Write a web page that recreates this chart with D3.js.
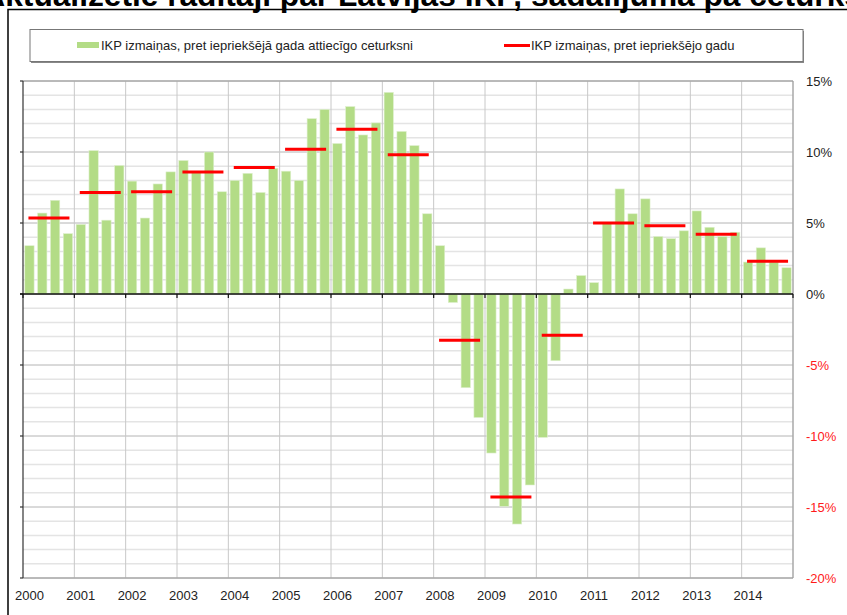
<!DOCTYPE html>
<html lang="lv">
<head>
    <meta charset="UTF-8">
    <title>IKP izmaiņas</title>
    <style>
        body{margin:0;background:#fff;}
        svg{display:block;font-family:Arial,"Liberation Sans",sans-serif;}
    </style>
    <script src="https://cdn.jsdelivr.net/npm/d3@7/dist/d3.min.js"></script>
</head>
<body>
<svg width="847" height="615"></svg>
<script>
    // gadi un ceturkšņu dati (%)
    var years = [2000,2001,2002,2003,2004,2005,2006,2007,2008,2009,2010,2011,2012,2013,2014];
    var quarterly = [
        3.4, 5.7, 6.6, 4.25,
        4.9, 10.1, 5.2, 9.05,
        7.95, 5.35, 7.75, 8.6,
        9.4, 8.6, 10.0, 7.2,
        8.0, 8.5, 7.15, 8.85,
        8.65, 8.0, 12.35, 13.0,
        10.6, 13.2, 11.2, 12.05,
        14.2, 11.45, 10.45, 5.65,
        3.4, -0.6, -6.6, -8.7,
        -11.2, -14.95, -16.2, -13.45,
        -10.1, -4.7, 0.35, 1.3,
        0.8, 4.95, 7.4, 5.65,
        6.7, 4.05, 3.9, 4.45,
        5.85, 4.7, 4.05, 4.35,
        2.25, 3.25, 2.25, 1.85
    ];
    var annual = [5.35, 7.15, 7.2, 8.6, 8.9, 10.2, 11.6, 9.8, -3.25, -14.3, -2.9, 5.0, 4.8, 4.2, 2.3];
    var yTicks = [15, 10, 5, 0, -5, -10, -15, -20];
    var legendLabels = ["IKP izmaiņas, pret iepriekšējā gada attiecīgo ceturksni", "IKP izmaiņas, pret iepriekšējo gadu"];
    var titleText = "Aktualizētie rādītāji par Latvijas IKP, sadalījumā pa ceturkšņiem";

    var quarters = [];
    years.forEach(function(yr){ ["Q1","Q2","Q3","Q4"].forEach(function(q){ quarters.push(yr+" "+q); }); });

    var svg = d3.select("svg");
    var plotL = 23, plotR = 793, plotT = 81, plotB = 578;

    var x = d3.scaleBand().domain(quarters).range([plotL, plotR]).paddingInner(0.275).paddingOuter(0.14);
    var xYear = d3.scaleLinear().domain([2000, 2015]).range([plotL, plotR]);
    var y = d3.scaleLinear().domain([-20, 15]).range([plotB, plotT]);

    svg.append("rect").attr("width",847).attr("height",615).attr("fill","#fff");

    // virsraksts (nogriezts augšā)
    function measure(str, size){
        var t = svg.append("text").attr("font-size",size).attr("font-weight","bold").text(str);
        var w = t.node().getComputedTextLength();
        t.remove();
        return w;
    }
    var titleSize = 27 * 415 / measure("par Latvijas IKP, sadalījumā ", 27);
    var pre = measure("Aktualizētie rādītāji ", titleSize);
    svg.append("text")
        .attr("x", 271 - pre)
        .attr("y", 6)
        .attr("font-size", titleSize)
        .attr("font-weight", "bold")
        .attr("fill", "#000")
        .text(titleText);

    // ārējais rāmis
    svg.append("rect").attr("x",8).attr("y",9.5).attr("width",860).attr("height",640)
        .attr("fill","none").attr("stroke","#000").attr("stroke-width",1.5);

    // leģenda
    svg.append("rect").attr("x",31).attr("y",31).attr("width",773).attr("height",32)
        .attr("fill","#888");
    svg.append("rect").attr("x",30).attr("y",29.5).attr("width",773).attr("height",32)
        .attr("fill","#fff").attr("stroke","#777").attr("stroke-width",1);
    svg.append("rect").attr("x",77).attr("y",42).attr("width",22).attr("height",6).attr("fill","#b3dc86");
    svg.append("text").attr("x",101).attr("y",50).attr("font-size",13).attr("fill","#222").text(legendLabels[0]);
    svg.append("line").attr("x1",504).attr("x2",530).attr("y1",45.5).attr("y2",45.5)
        .attr("stroke","#ff0000").attr("stroke-width",3);
    svg.append("text").attr("x",531).attr("y",50).attr("font-size",13).attr("fill","#222").text(legendLabels[1]);

    // režģis
    var minor = d3.range(-20, 16).filter(function(v){ return v % 5 !== 0; });
    svg.append("g").selectAll("line").data(minor).enter().append("line")
        .attr("x1",plotL).attr("x2",plotR)
        .attr("y1",function(d){return y(d);}).attr("y2",function(d){return y(d);})
        .attr("stroke","#e4e4e4").attr("stroke-width",1.5);
    svg.append("g").selectAll("line").data(yTicks).enter().append("line")
        .attr("x1",plotL).attr("x2",plotR)
        .attr("y1",function(d){return y(d);}).attr("y2",function(d){return y(d);})
        .attr("stroke","#b4b4b4").attr("stroke-width",1);
    svg.append("g").selectAll("line").data(years.slice(1)).enter().append("line")
        .attr("x1",function(d){return xYear(d);}).attr("x2",function(d){return xYear(d);})
        .attr("y1",plotT).attr("y2",y(-20))
        .attr("stroke","#c8c8c8").attr("stroke-width",1);
    svg.append("line").attr("x1",plotR).attr("x2",plotR).attr("y1",plotT).attr("y2",y(-20))
        .attr("stroke","#a8a8a8").attr("stroke-width",1.5);
    svg.append("line").attr("x1",plotL).attr("x2",plotR).attr("y1",plotT).attr("y2",plotT)
        .attr("stroke","#999").attr("stroke-width",1.2);
    svg.append("line").attr("x1",plotL).attr("x2",plotR).attr("y1",y(-20)).attr("y2",y(-20))
        .attr("stroke","#999").attr("stroke-width",1.2);

    // stabiņi
    svg.append("g").selectAll("rect").data(quarterly).enter().append("rect")
        .attr("x",function(d,i){return x(quarters[i]);})
        .attr("width",x.bandwidth())
        .attr("y",function(d){return y(Math.max(0,d));})
        .attr("height",function(d){return Math.abs(y(d)-y(0));})
        .attr("fill","#b3dc86")
        .attr("stroke","#dff0cf").attr("stroke-width",0.6);

    // kreisā ass
    svg.append("line").attr("x1",plotL).attr("x2",plotL).attr("y1",plotT).attr("y2",y(-20))
        .attr("stroke","#333").attr("stroke-width",1.2);
    svg.append("g").selectAll("line").data(yTicks).enter().append("line")
        .attr("x1",plotL-3).attr("x2",plotL)
        .attr("y1",function(d){return y(d);}).attr("y2",function(d){return y(d);})
        .attr("stroke","#333").attr("stroke-width",1.2);

    // nulles līnija ar atzīmēm
    svg.append("line").attr("x1",plotL-3).attr("x2",plotR).attr("y1",y(0)).attr("y2",y(0))
        .attr("stroke","#111").attr("stroke-width",1.6);
    svg.append("g").selectAll("line").data(years.concat([2015])).enter().append("line")
        .attr("x1",function(d){return xYear(d);}).attr("x2",function(d){return xYear(d);})
        .attr("y1",y(0)).attr("y2",y(0)+4)
        .attr("stroke","#111").attr("stroke-width",1.2);

    // gada vidējās līnijas
    svg.append("g").selectAll("line").data(annual).enter().append("line")
        .attr("x1",function(d,i){return x(years[i]+" Q1")+x.bandwidth()/2-1;})
        .attr("x2",function(d,i){return x(years[i]+" Q4")+x.bandwidth()/2+1.5;})
        .attr("y1",function(d){return y(d);}).attr("y2",function(d){return y(d);})
        .attr("stroke","#ff0000").attr("stroke-width",3);

    // labā ass
    svg.append("g").selectAll("text").data(yTicks).enter().append("text")
        .attr("x",806).attr("y",function(d){return y(d)+5;})
        .attr("font-size",13)
        .attr("fill",function(d){return d < 0 ? "#ff1a1a" : "#222";})
        .text(function(d){return d+"%";});

    // gadu nosaukumi
    svg.append("g").selectAll("text").data(years).enter().append("text")
        .attr("x",function(d){return x(d+" Q1")+x.bandwidth()/2;})
        .attr("y",600)
        .attr("text-anchor","middle")
        .attr("font-size",13)
        .attr("fill","#222")
        .text(function(d){return d;});
</script>
</body>
</html>
